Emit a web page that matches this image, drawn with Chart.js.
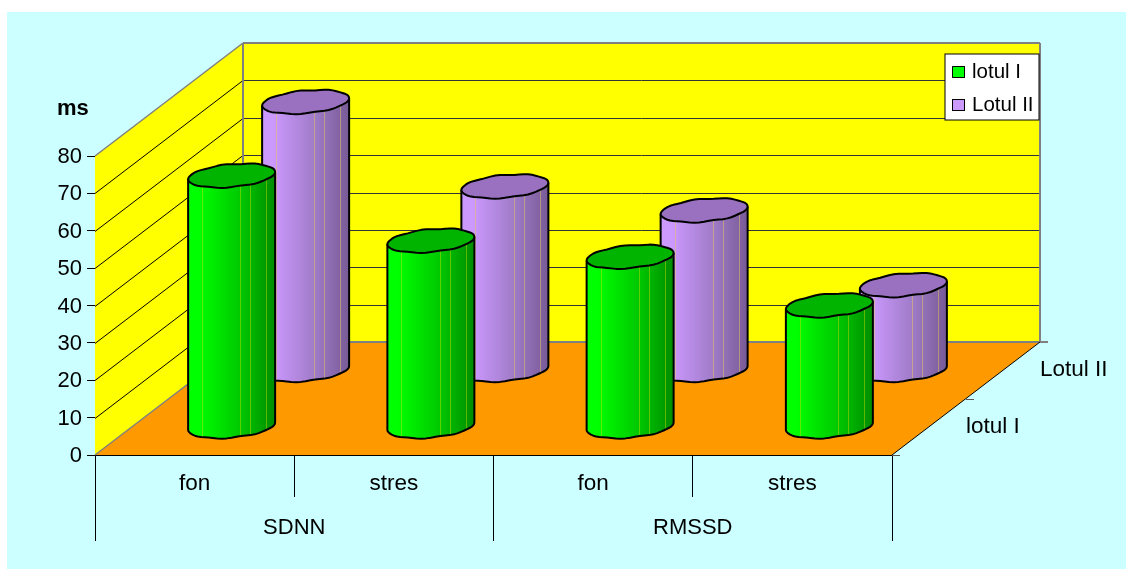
<!DOCTYPE html>
<html>
<head>
<meta charset="utf-8">
<style>
  html, body { margin: 0; background: #fff; }
  canvas { display: block; }
</style>
<script src="https://cdn.jsdelivr.net/npm/chart.js@4/dist/chart.umd.js"></script>
</head>
<body>
<canvas id="chart" width="1126" height="569"></canvas>
<script>
const measures = ['fon', 'stres', 'fon', 'stres'];
const groups = ['SDNN', 'RMSSD'];
const seriesNames = ['lotul I', 'Lotul II'];
const lotul1 = [67.2, 49.8, 45.5, 32.5];
const lotul2 = [71.8, 49.2, 42.8, 22.8];

const FONT = '"Liberation Sans", Arial, sans-serif';
// offset from the front plane to the back wall
const WALL_X = 148;
const WALL_Y = 113;

class CylinderController extends Chart.BarController {
    static id = 'cylinder';
    static defaults = { dataElementType: 'cylinder' };
}

class CylinderElement extends Chart.BarElement {
    static id = 'cylinder';
    static defaults = {
        depth: 0,
        midColor: '#888',
        endColor: '#444',
        capColor: '#666',
        seamColor: '#ccc'
    };

    draw(ctx) {
        const { x, y, base, width } = this.getProps(['x', 'y', 'base', 'width']);
        const o = this.options;
        const cx = x + o.depth * WALL_X;
        const top = y - o.depth * WALL_Y;
        const bottom = base - o.depth * WALL_Y;
        const a = width / 2;
        const b = 11.4;
        const tilt = 0.085;
        const left = cx - a;
        // rim point, the right end sits a little higher and the facets make it slightly uneven
        const pt = (cy, t) => [
            cx + a * Math.cos(t),
            cy + b * Math.sin(t) - tilt * a * Math.cos(t) + 0.5 * Math.abs(Math.sin(t)) * Math.sin(8 * t)
        ];
        const N = 28;

        ctx.save();
        const grad = ctx.createLinearGradient(left, 0, left + width, 0);
        grad.addColorStop(0, o.backgroundColor);
        grad.addColorStop(0.12, o.backgroundColor);
        grad.addColorStop(0.6, o.midColor);
        grad.addColorStop(1, o.endColor);

        // body: top rim from left to right, then round the bottom
        ctx.beginPath();
        ctx.moveTo(...pt(top, Math.PI));
        ctx.lineTo(...pt(top, 0));
        for (let i = 0; i <= N; i++) {
            ctx.lineTo(...pt(bottom, Math.PI * i / N));
        }
        ctx.closePath();
        ctx.fillStyle = grad;
        ctx.fill();

        // thin seams between the facets
        ctx.strokeStyle = o.seamColor;
        ctx.lineWidth = 1;
        [0.16, 0.6, 0.715, 0.9].forEach(f => {
            const sx = Math.round(left + f * width) + 0.5;
            const dip = Math.sqrt(1 - Math.pow(2 * f - 1, 2)) * b - tilt * a * (2 * f - 1);
            ctx.beginPath();
            ctx.moveTo(sx, top + dip);
            ctx.lineTo(sx, bottom + dip);
            ctx.stroke();
        });

        ctx.strokeStyle = '#000';
        ctx.lineWidth = 2;
        ctx.lineJoin = 'round';
        ctx.beginPath();
        ctx.moveTo(...pt(top, Math.PI));
        ctx.lineTo(...pt(bottom, Math.PI));
        for (let i = N; i >= 0; i--) {
            ctx.lineTo(...pt(bottom, Math.PI * i / N));
        }
        ctx.lineTo(...pt(top, 0));
        ctx.stroke();

        // cap
        ctx.beginPath();
        for (let i = 0; i < N * 2; i++) {
            const p = pt(top, Math.PI * i / N);
            if (i === 0) ctx.moveTo(...p); else ctx.lineTo(...p);
        }
        ctx.closePath();
        ctx.fillStyle = o.capColor;
        ctx.fill();
        ctx.stroke();
        ctx.restore();
    }
}

Chart.register(CylinderController, CylinderElement);

// panel colour, floor and the two walls with their grid lines
const roomPlugin = {
    id: 'room',
    beforeDraw(chart) {
        const { ctx } = chart;
        ctx.save();
        ctx.fillStyle = '#ccffff';
        ctx.fillRect(7, 12, chart.width - 7, chart.height - 12);
        ctx.restore();
    },
    beforeDatasetsDraw(chart) {
        const { ctx, chartArea: area, scales: { y } } = chart;
        const l = area.left, r = area.right, b = area.bottom, t = area.top;
        const poly = (pts, fill) => {
            ctx.beginPath();
            pts.forEach((p, i) => i ? ctx.lineTo(p[0], p[1]) : ctx.moveTo(p[0], p[1]));
            ctx.closePath();
            ctx.fillStyle = fill;
            ctx.fill();
        };
        const line = (x1, y1, x2, y2, color, w) => {
            ctx.beginPath();
            ctx.moveTo(x1, y1);
            ctx.lineTo(x2, y2);
            ctx.strokeStyle = color;
            ctx.lineWidth = w;
            ctx.stroke();
        };
        ctx.save();
        poly([[l + WALL_X, t - WALL_Y], [r + WALL_X, t - WALL_Y], [r + WALL_X, b - WALL_Y], [l + WALL_X, b - WALL_Y]], '#ffff00');
        poly([[l, t], [l + WALL_X, t - WALL_Y], [l + WALL_X, b - WALL_Y], [l, b]], '#ffff00');
        poly([[l, b], [l + WALL_X, b - WALL_Y], [r + WALL_X, b - WALL_Y], [r, b]], '#ff9900');

        y.ticks.forEach(tick => {
            if (tick.value === y.min || tick.value === y.max) return;
            const py = Math.round(y.getPixelForValue(tick.value)) + 0.5;
            line(l, py, l + WALL_X, py - WALL_Y, '#000', 1);
            line(l + WALL_X, py - WALL_Y, r + WALL_X, py - WALL_Y, '#333', 1);
        });

        line(l, t, l + WALL_X, t - WALL_Y, '#808080', 1.5);
        line(l + WALL_X, t - WALL_Y, r + WALL_X, t - WALL_Y, '#808080', 2);
        line(l + WALL_X, t - WALL_Y, l + WALL_X, b - WALL_Y, '#808080', 2);
        line(r + WALL_X, t - WALL_Y, r + WALL_X, b - WALL_Y, '#808080', 2);
        line(l, b, l + WALL_X, b - WALL_Y, '#808080', 1.5);
        line(l + WALL_X, b - WALL_Y, r + WALL_X + 8, b - WALL_Y, '#808080', 2);
        line(r, b, r + WALL_X, b - WALL_Y, '#000', 1);

        // depth axis on the right edge of the floor
        [0, 0.5].forEach(d => {
            const px = r + d * WALL_X, py = Math.round(b - d * WALL_Y) + 0.5;
            line(px, py, px + 8, py, '#555', 1);
        });
        ctx.fillStyle = '#000';
        ctx.font = '22.5px ' + FONT;
        ctx.textAlign = 'left';
        ctx.textBaseline = 'middle';
        chart.data.datasets.forEach(ds => {
            ctx.fillText(ds.label, r + ds.depth * WALL_X + 37, b - ds.depth * WALL_Y);
        });

        ctx.font = 'bold 22px ' + FONT;
        ctx.fillText('ms', 57, 109);
        ctx.restore();
    },
    afterDatasetsDraw(chart) {
        const { ctx } = chart;
        ctx.save();
        ctx.fillStyle = '#fff';
        ctx.fillRect(945, 54, 94, 66);
        ctx.strokeStyle = '#000';
        ctx.lineWidth = 1;
        ctx.strokeRect(945, 54, 94, 66);
        ctx.font = '20.5px ' + FONT;
        ctx.textAlign = 'left';
        ctx.textBaseline = 'middle';
        chart.data.datasets.forEach((ds, i) => {
            const cy = 72 + i * 33;
            ctx.fillStyle = ds.backgroundColor;
            ctx.fillRect(952.5, cy - 5.5, 12, 11);
            ctx.strokeStyle = '#000';
            ctx.strokeRect(952.5, cy - 5.5, 12, 11);
            ctx.fillStyle = '#000';
            ctx.fillText(ds.label, 972, cy);
        });
        ctx.restore();
    }
};

new Chart(document.getElementById('chart'), {
    type: 'cylinder',
    data: {
        labels: measures,
        datasets: [
            {
                label: seriesNames[0],
                data: lotul1,
                depth: 0.25,
                backgroundColor: '#00ff00',
                midColor: '#00c800',
                endColor: '#008c00',
                capColor: '#00b400',
                seamColor: 'rgba(210,220,0,0.45)'
            },
            {
                label: seriesNames[1],
                data: lotul2,
                depth: 0.75,
                backgroundColor: '#cc99ff',
                midColor: '#a07cc8',
                endColor: '#775a96',
                capColor: '#9a70c0',
                seamColor: 'rgba(235,200,90,0.5)'
            }
        ]
    },
    options: {
        responsive: false,
        animation: false,
        clip: false,
        grouped: false,
        barPercentage: 0.4366,
        categoryPercentage: 1,
        layout: { padding: { left: 0, top: 156, right: 234, bottom: 28 } },
        plugins: { legend: { display: false }, tooltip: { enabled: false } },
        scales: {
            x: {
                type: 'category',
                labels: measures,
                offset: true,
                weight: 0,
                afterFit: s => { s.height = 42; },
                border: { color: '#000' },
                grid: { offset: true, drawOnChartArea: false, tickLength: 42, tickColor: '#000' },
                ticks: { autoSkip: false, maxRotation: 0, padding: -27, color: '#000', font: { family: FONT, size: 22.5 } }
            },
            x2: {
                type: 'category',
                axis: 'x',
                position: 'bottom',
                labels: groups,
                offset: true,
                weight: 1,
                afterFit: s => { s.height = 44; },
                border: { display: false },
                grid: { offset: true, drawOnChartArea: false, tickLength: 44, tickColor: '#000' },
                ticks: { autoSkip: false, maxRotation: 0, padding: -26, color: '#000', font: { family: FONT, size: 22 } }
            },
            y: {
                min: 0,
                max: 80,
                afterFit: s => { s.width = 95; },
                border: { color: '#000' },
                grid: { drawOnChartArea: false, tickLength: 8, tickColor: '#000' },
                ticks: { stepSize: 10, padding: 5, labelOffset: 1, color: '#000', font: { family: FONT, size: 22 } }
            }
        }
    },
    plugins: [roomPlugin]
});
</script>
</body>
</html>
